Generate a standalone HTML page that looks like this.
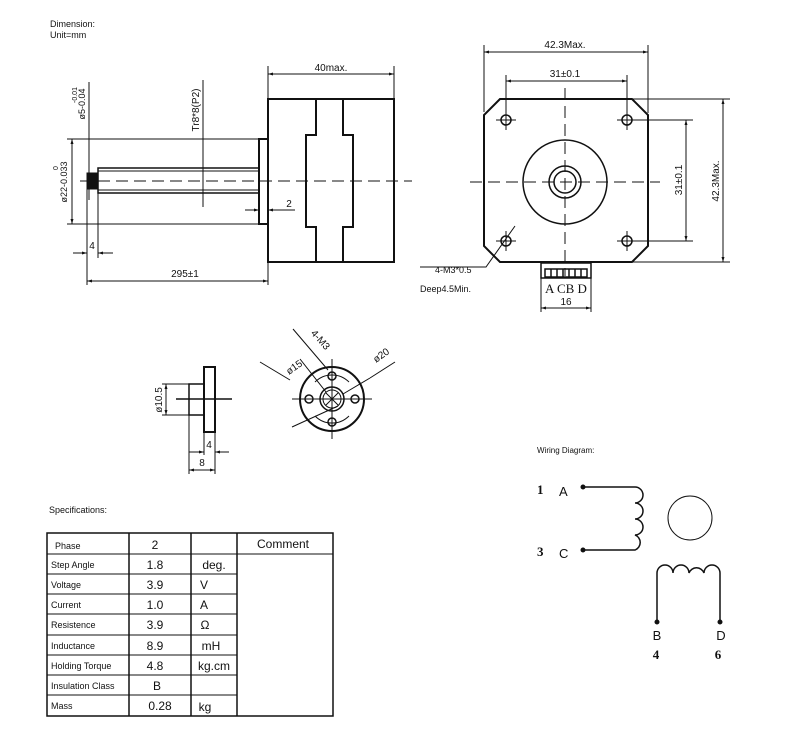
<!DOCTYPE html>
<html><head><meta charset="utf-8"><style>
html,body{margin:0;padding:0;background:#fff}
svg{display:block}
text{font-family:"Liberation Sans",sans-serif;fill:#111}
.s{font-family:"Liberation Serif",serif}
</style></head><body>
<svg width="800" height="752" viewBox="0 0 800 752" xmlns="http://www.w3.org/2000/svg">
<defs>
<marker id="a" viewBox="0 0 10 10" refX="10" refY="5" markerWidth="7" markerHeight="5" orient="auto-start-reverse"><path d="M0,2 L10,5 L0,8z" fill="#111"/></marker>
</defs>
<g stroke="#111" fill="none" stroke-width="1">
<text x="50" y="27" font-size="9" stroke="none">Dimension:</text>
<text x="50" y="38" font-size="9" stroke="none">Unit=mm</text>

<!-- SIDE VIEW -->
<rect x="268" y="99" width="126" height="163" stroke-width="2"/>
<path d="M316,99 V135 H306 V227 H316 V262 M343,99 V135 H353 V227 H343 V262" stroke-width="2"/>
<rect x="259" y="139" width="9" height="85" stroke-width="2"/>
<rect x="98" y="168" width="161" height="25" stroke-width="1.5"/>
<line x1="98" y1="171" x2="259" y2="171"/><line x1="98" y1="190" x2="259" y2="190"/>
<rect x="87" y="173" width="11" height="16" fill="#111"/>
<line x1="80" y1="181" x2="412" y2="181" stroke-dasharray="12,6"/>
<!-- 40max -->
<line x1="268" y1="66" x2="268" y2="99"/><line x1="394" y1="66" x2="394" y2="99"/>
<line x1="268" y1="74" x2="394" y2="74" marker-start="url(#a)" marker-end="url(#a)"/>
<text x="331" y="71" font-size="10" text-anchor="middle" stroke="none">40max.</text>
<!-- phi22 -->
<line x1="67" y1="139" x2="259" y2="139"/><line x1="67" y1="224" x2="259" y2="224"/>
<line x1="72" y1="139" x2="72" y2="224" marker-start="url(#a)" marker-end="url(#a)"/>
<text transform="translate(67,182) rotate(-90)" font-size="9" text-anchor="middle" stroke="none">ø22-0.033</text>
<text transform="translate(58,168) rotate(-90)" font-size="7" text-anchor="middle" stroke="none">0</text>
<!-- phi5 -->
<line x1="89" y1="82" x2="89" y2="200"/>
<text transform="translate(85,104) rotate(-90)" font-size="9" text-anchor="middle" stroke="none">ø5-0.04</text>
<text transform="translate(77,95) rotate(-90)" font-size="7" text-anchor="middle" stroke="none">-0.01</text>
<!-- Tr8 -->
<line x1="203" y1="80" x2="203" y2="207"/>
<text transform="translate(199,110) rotate(-90)" font-size="10" text-anchor="middle" stroke="none">Tr8*8(P2)</text>
<!-- 2 -->
<line x1="245" y1="210" x2="259" y2="210" marker-end="url(#a)"/><line x1="295" y1="210" x2="268" y2="210" marker-end="url(#a)"/>
<text x="289" y="207" font-size="10" text-anchor="middle" stroke="none">2</text>
<!-- 4 -->
<line x1="87" y1="189" x2="87" y2="285"/><line x1="98" y1="193" x2="98" y2="258"/>
<line x1="73" y1="253" x2="87" y2="253" marker-end="url(#a)"/><line x1="113" y1="253" x2="98" y2="253" marker-end="url(#a)"/>
<text x="92" y="249" font-size="10" text-anchor="middle" stroke="none">4</text>
<!-- 295 -->
<line x1="268" y1="262" x2="268" y2="285"/>
<line x1="87" y1="281" x2="268" y2="281" marker-start="url(#a)" marker-end="url(#a)"/>
<text x="185" y="277" font-size="10" text-anchor="middle" stroke="none">295±1</text>

<!-- FRONT VIEW -->
<path d="M500,99 H632 L648,115 V246 L632,262 H500 L484,246 V115 Z" stroke-width="2"/>
<g stroke-width="1.5">
<circle cx="506" cy="120" r="5"/><circle cx="627" cy="120" r="5"/><circle cx="506" cy="241" r="5"/><circle cx="627" cy="241" r="5"/>
</g>
<path d="M496,120 H516 M506,110 V130 M617,120 H637 M627,110 V130 M496,241 H516 M506,231 V251 M617,241 H637 M627,231 V251"/>
<circle cx="565" cy="182" r="42" stroke-width="1.5"/>
<circle cx="565" cy="182" r="16" stroke-width="1.5"/>
<circle cx="565" cy="182" r="11" stroke-width="1.5"/>
<path d="M561,182 H569 M565,178 V186"/>
<line x1="470" y1="182" x2="660" y2="182" stroke-dasharray="12,6"/>
<line x1="565" y1="88" x2="565" y2="276" stroke-dasharray="12,6"/>
<line x1="484" y1="45" x2="484" y2="112"/><line x1="648" y1="45" x2="648" y2="113"/>
<line x1="484" y1="52" x2="648" y2="52" marker-start="url(#a)" marker-end="url(#a)"/>
<text x="565" y="48" font-size="10" text-anchor="middle" stroke="none">42.3Max.</text>
<line x1="506" y1="75" x2="506" y2="110"/><line x1="627" y1="75" x2="627" y2="110"/>
<line x1="506" y1="81" x2="627" y2="81" marker-start="url(#a)" marker-end="url(#a)"/>
<text x="565" y="77" font-size="10" text-anchor="middle" stroke="none">31±0.1</text>
<line x1="637" y1="120" x2="693" y2="120"/><line x1="637" y1="241" x2="693" y2="241"/>
<line x1="686" y1="120" x2="686" y2="241" marker-start="url(#a)" marker-end="url(#a)"/>
<text transform="translate(682,180) rotate(-90)" font-size="10" text-anchor="middle" stroke="none">31±0.1</text>
<line x1="632" y1="99" x2="730" y2="99"/><line x1="632" y1="262" x2="730" y2="262"/>
<line x1="723" y1="99" x2="723" y2="262" marker-start="url(#a)" marker-end="url(#a)"/>
<text transform="translate(719,181) rotate(-90)" font-size="10" text-anchor="middle" stroke="none">42.3Max.</text>
<!-- connector -->
<rect x="541" y="263" width="50" height="15" stroke-width="1.5"/>
<path d="M545,269 H587 V277 H545 Z M551,269 V277 M557,269 V277 M563,269 V277 M569,269 V277 M575,269 V277 M581,269 V277" stroke-width="1.5"/>
<text x="566" y="293" font-size="13" text-anchor="middle" class="s" stroke="none">A CB D</text>
<line x1="541" y1="278" x2="541" y2="312"/><line x1="591" y1="278" x2="591" y2="312"/>
<line x1="541" y1="308" x2="591" y2="308" marker-start="url(#a)" marker-end="url(#a)"/>
<text x="566" y="305" font-size="10" text-anchor="middle" stroke="none">16</text>
<path d="M515,226 L486,267 H420"/>
<text x="435" y="273" font-size="9" stroke="none">4-M3*0.5</text>
<text x="420" y="292" font-size="9" stroke="none">Deep4.5Min.</text>

<!-- NUT SIDE -->
<rect x="204" y="367" width="11" height="65" stroke-width="2"/>
<rect x="189" y="384" width="15" height="31" stroke-width="1.5"/>
<line x1="176" y1="399" x2="232" y2="399" stroke-width="1.5"/>
<line x1="162" y1="384" x2="189" y2="384"/><line x1="162" y1="415" x2="189" y2="415"/>
<line x1="166" y1="384" x2="166" y2="415" marker-start="url(#a)" marker-end="url(#a)"/>
<text transform="translate(162,400) rotate(-90)" font-size="10" text-anchor="middle" stroke="none">ø10.5</text>
<line x1="189" y1="415" x2="189" y2="474"/><line x1="204" y1="432" x2="204" y2="455"/><line x1="215" y1="432" x2="215" y2="474"/>
<line x1="189" y1="452" x2="204" y2="452" marker-end="url(#a)"/><line x1="229" y1="452" x2="215" y2="452" marker-end="url(#a)"/>
<text x="209" y="448" font-size="10" text-anchor="middle" stroke="none">4</text>
<line x1="189" y1="470" x2="215" y2="470" marker-start="url(#a)" marker-end="url(#a)"/>
<text x="202" y="466" font-size="10" text-anchor="middle" stroke="none">8</text>

<!-- NUT FRONT -->
<circle cx="332" cy="399" r="32" stroke-width="2"/>
<circle cx="332" cy="399" r="12" stroke-width="1.5"/>
<circle cx="332" cy="399" r="9"/>
<circle cx="332" cy="376" r="4" stroke-width="1.5"/><circle cx="332" cy="422" r="4" stroke-width="1.5"/>
<circle cx="309" cy="399" r="4" stroke-width="1.5"/><circle cx="355" cy="399" r="4" stroke-width="1.5"/>
<path d="M292,399 H372 M332,359 V439 M326,393 L338,405 M338,393 L326,405"/>
<path d="M315,382 A24,24 0 0 1 349,382 M349,416 A24,24 0 0 1 315,416" />
<path d="M300,359 L326,392 M338,406 L292,427 M370,378 L343,394"/>
<path d="M260,362 L290,380 M370,378 L395,362 M293,329 L328,370"/>
<text transform="translate(296,370) rotate(-35)" font-size="10" text-anchor="middle" stroke="none">ø15</text>
<text transform="translate(383,358) rotate(-35)" font-size="10" text-anchor="middle" stroke="none">ø20</text>
<text transform="translate(318,342) rotate(48)" font-size="10" text-anchor="middle" stroke="none">4-M3</text>

<!-- TABLE -->
<text x="49" y="513" font-size="9" stroke="none">Specifications:</text>
<rect x="47" y="533" width="286" height="183" stroke-width="1.5"/>
<path d="M129,533 V716 M191,533 V716 M237,533 V716" stroke-width="1.5"/>
<path d="M47,554 H333 M47,574 H237 M47,594 H237 M47,614 H237 M47,635 H237 M47,655 H237 M47,675 H237 M47,695 H237"/>
<g font-size="9" stroke="none">
<text x="55" y="549">Phase</text><text x="51" y="568">Step Angle</text><text x="51" y="588">Voltage</text>
<text x="51" y="608">Current</text><text x="51" y="628">Resistence</text><text x="51" y="649">Inductance</text>
<text x="51" y="669">Holding Torque</text><text x="51" y="689">Insulation Class</text><text x="51" y="709">Mass</text>
</g>
<g font-size="12" stroke="none" text-anchor="middle">
<text x="155" y="549">2</text><text x="155" y="569">1.8</text><text x="155" y="589">3.9</text><text x="155" y="609">1.0</text>
<text x="155" y="629">3.9</text><text x="155" y="650">8.9</text><text x="155" y="670">4.8</text><text x="157" y="690">B</text><text x="160" y="710">0.28</text>
<text x="214" y="569">deg.</text><text x="204" y="589">V</text><text x="204" y="609">A</text><text x="205" y="629">Ω</text>
<text x="211" y="650">mH</text><text x="214" y="670">kg.cm</text><text x="205" y="711">kg</text>
<text x="283" y="548">Comment</text>
</g>

<!-- WIRING -->
<text x="537" y="453" font-size="8" stroke="none">Wiring Diagram:</text>
<text x="537" y="494" font-size="13" class="s" font-weight="bold" stroke="none">1</text>
<text x="559" y="496" font-size="13" stroke="none">A</text>
<text x="537" y="556" font-size="13" class="s" font-weight="bold" stroke="none">3</text>
<text x="559" y="558" font-size="13" stroke="none">C</text>
<circle cx="583" cy="487" r="2" fill="#111"/><circle cx="583" cy="550" r="2" fill="#111"/>
<path d="M583,487 H635 A8,8 0 0 1 635,503 A8,8 0 0 1 635,519 A8,8 0 0 1 635,535 A8,8 0 0 1 635,550 H583" stroke-width="1.5"/>
<circle cx="690" cy="518" r="22"/>
<path d="M657,622 V573 A8,8 0 0 1 673,573 A8,8 0 0 1 689,573 A8,8 0 0 1 704,573 A8,8 0 0 1 720,573 V622" stroke-width="1.5"/>
<circle cx="657" cy="622" r="2" fill="#111"/><circle cx="720" cy="622" r="2" fill="#111"/>
<text x="657" y="640" font-size="13" text-anchor="middle" stroke="none">B</text>
<text x="721" y="640" font-size="13" text-anchor="middle" stroke="none">D</text>
<text x="656" y="659" font-size="13" class="s" font-weight="bold" text-anchor="middle" stroke="none">4</text>
<text x="718" y="659" font-size="13" class="s" font-weight="bold" text-anchor="middle" stroke="none">6</text>
</g>
</svg>
</body></html>
